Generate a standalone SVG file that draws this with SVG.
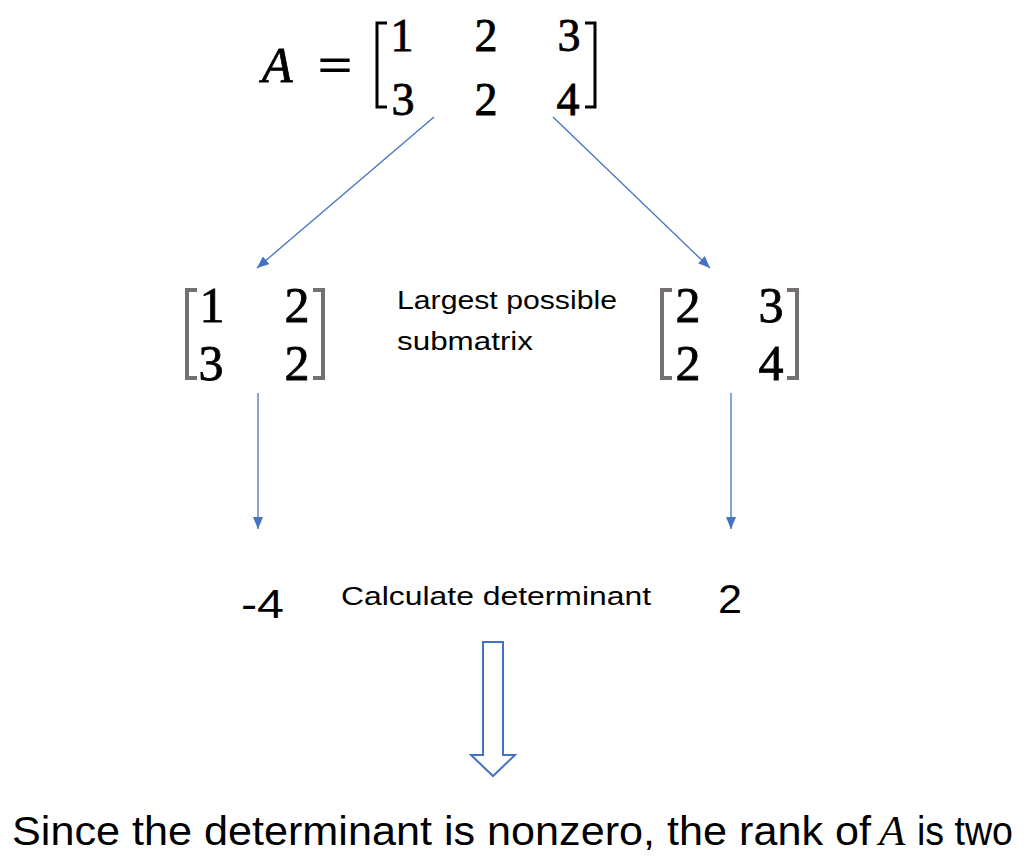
<svg xmlns="http://www.w3.org/2000/svg" width="1035" height="868" viewBox="0 0 1035 868">
<style>
.num{font-family:"Liberation Serif",serif;fill:#000;stroke:#000;stroke-width:0.8;text-anchor:middle}
.lbl{font-family:"Liberation Sans",Arial,sans-serif;fill:#000}
.brk{fill:none;stroke:#000;stroke-width:3}
.gbrk{fill:none;stroke:#767171;stroke-width:4}
.conn{fill:none;stroke:#4472C4;stroke-width:1.3}
</style>
<defs>
<marker id="ah" viewBox="0 0 12 10" refX="12" refY="5" markerWidth="12" markerHeight="10" markerUnits="userSpaceOnUse" orient="auto">
<path d="M0,0 L12,5 L0,10 Z" fill="#4472C4"/>
</marker>
</defs>
<rect width="1035" height="868" fill="#fff"/>
<g id="matrixA">
<text x="262" y="82" font-family="Liberation Serif,serif" font-style="italic" font-size="50" stroke="#000" stroke-width="0.8">A</text>
<text x="318" y="82" font-family="Liberation Serif,serif" font-size="50" stroke="#000" stroke-width="1" textLength="34" lengthAdjust="spacingAndGlyphs">=</text>
<path class="brk" d="M387,23 H377 V107 H387"/>
<path class="brk" d="M585,23 H595 V107 H585"/>
<text class="num" font-size="46" x="402" y="51">1</text>
<text class="num" font-size="46" x="486" y="51">2</text>
<text class="num" font-size="46" x="569" y="51">3</text>
<text class="num" font-size="46" x="403" y="115">3</text>
<text class="num" font-size="46" x="486" y="115">2</text>
<text class="num" font-size="46" x="568" y="115">4</text>
</g>
<g id="subLeft">
<path class="gbrk" d="M197,290 H187 V378 H197"/>
<path class="gbrk" d="M313,290 H323 V378 H313"/>
<text class="num" font-size="50" x="212" y="322">1</text>
<text class="num" font-size="50" x="297" y="322">2</text>
<text class="num" font-size="50" x="211" y="380">3</text>
<text class="num" font-size="50" x="297" y="380">2</text>
</g>
<g id="subLabel">
<text class="lbl" font-size="25" x="397" y="309" textLength="220" lengthAdjust="spacingAndGlyphs">Largest possible</text>
<text class="lbl" font-size="25" x="397" y="350" textLength="136" lengthAdjust="spacingAndGlyphs">submatrix</text>
</g>
<g id="subRight">
<path class="gbrk" d="M672,290 H662 V378 H672"/>
<path class="gbrk" d="M787,290 H797 V378 H787"/>
<text class="num" font-size="50" x="688" y="322">2</text>
<text class="num" font-size="50" x="771" y="322">3</text>
<text class="num" font-size="50" x="688" y="380">2</text>
<text class="num" font-size="50" x="771" y="380">4</text>
</g>
<g id="detLeft">
<text class="lbl" font-size="40" x="241" y="618" textLength="43" lengthAdjust="spacingAndGlyphs">-4</text>
</g>
<g id="detLabel">
<text class="lbl" font-size="26" x="341" y="605" textLength="310" lengthAdjust="spacingAndGlyphs">Calculate determinant</text>
</g>
<g id="detRight">
<text class="lbl" font-size="40" x="718" y="613" textLength="24" lengthAdjust="spacingAndGlyphs">2</text>
</g>
<g id="conclusion">
<text class="lbl" font-size="41" x="12" y="845" textLength="859" lengthAdjust="spacingAndGlyphs">Since the determinant is nonzero, the rank of</text>
<text x="879" y="845" font-family="Liberation Serif,serif" font-style="italic" font-size="43">A</text>
<text class="lbl" font-size="41" x="917" y="845" textLength="96" lengthAdjust="spacingAndGlyphs">is two</text>
</g>
<g id="connectors">
<line class="conn" x1="434" y1="117" x2="257" y2="268" marker-end="url(#ah)"/>
<line class="conn" x1="553" y1="117" x2="710" y2="268" marker-end="url(#ah)"/>
<line class="conn" x1="258" y1="393" x2="258" y2="529" marker-end="url(#ah)"/>
<line class="conn" x1="731" y1="393" x2="731" y2="529" marker-end="url(#ah)"/>
<polygon points="483,642 503,642 503,755 515,755 493,776 471,755 483,755" fill="#fff" stroke="#4472C4" stroke-width="2"/>
</g>
</svg>
